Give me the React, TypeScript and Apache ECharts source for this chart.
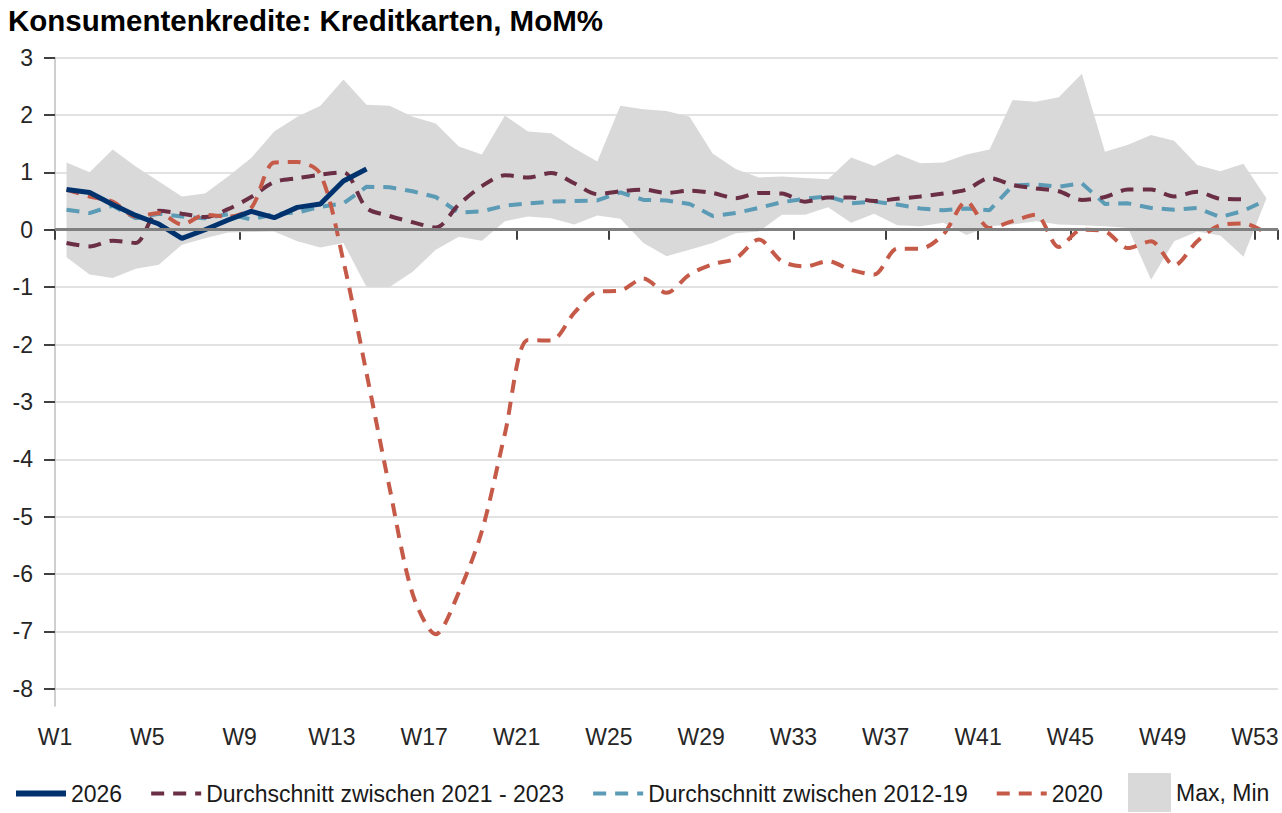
import React, { useEffect, useRef } from 'react';
import * as echarts from 'echarts';

const weeks = ['W1','W2','W3','W4','W5','W6','W7','W8','W9','W10','W11','W12','W13','W14','W15','W16','W17','W18','W19','W20','W21','W22','W23','W24','W25','W26','W27','W28','W29','W30','W31','W32','W33','W34','W35','W36','W37','W38','W39','W40','W41','W42','W43','W44','W45','W46','W47','W48','W49','W50','W51','W52','W53'];

const yTicks = [-8, -7, -6, -5, -4, -3, -2, -1, 0, 1, 2, 3];

const s2026 = [0.70, 0.65, 0.44, 0.25, 0.10, -0.15, 0.0, 0.17, 0.32, 0.21, 0.39, 0.45, 0.85, 1.06];

const avg2123 = [-0.23, -0.29, -0.19, -0.23, 0.33, 0.28, 0.22, 0.36, 0.57, 0.83, 0.90, 0.96, 1.00, 0.38, 0.24, 0.13, 0.04, 0.44, 0.76, 0.95, 0.91, 0.99, 0.81, 0.62, 0.67, 0.70, 0.64, 0.68, 0.64, 0.55, 0.64, 0.63, 0.49, 0.56, 0.56, 0.50, 0.54, 0.58, 0.63, 0.70, 0.90, 0.78, 0.72, 0.67, 0.52, 0.57, 0.70, 0.70, 0.58, 0.66, 0.54, 0.53];

const avg1219 = [0.35, 0.29, 0.42, 0.20, 0.28, 0.23, 0.20, 0.27, 0.18, 0.27, 0.30, 0.40, 0.46, 0.75, 0.74, 0.67, 0.57, 0.30, 0.32, 0.42, 0.46, 0.49, 0.50, 0.51, 0.65, 0.52, 0.51, 0.45, 0.24, 0.29, 0.38, 0.48, 0.54, 0.58, 0.46, 0.49, 0.44, 0.37, 0.34, 0.37, 0.34, 0.77, 0.79, 0.75, 0.81, 0.45, 0.46, 0.38, 0.35, 0.38, 0.22, 0.33, 0.52];

const s2020 = [0.70, 0.58, 0.49, 0.23, 0.29, 0.09, 0.26, 0.23, 0.38, 1.17, 1.18, 0.97, -0.55, -2.50, -4.50, -6.35, -7.05, -6.32, -5.25, -3.55, -1.92, -1.93, -1.45, -1.08, -1.06, -0.85, -1.10, -0.78, -0.60, -0.50, -0.17, -0.55, -0.64, -0.55, -0.70, -0.78, -0.33, -0.33, -0.08, 0.49, 0.03, 0.15, 0.26, -0.30, 0.00, -0.03, -0.32, -0.20, -0.62, -0.20, 0.08, 0.11, -0.06];

const bandMax = [1.17, 1.00, 1.40, 1.10, 0.84, 0.58, 0.63, 0.93, 1.25, 1.71, 1.97, 2.16, 2.62, 2.18, 2.16, 1.97, 1.85, 1.45, 1.31, 1.99, 1.71, 1.68, 1.42, 1.19, 2.16, 2.10, 2.07, 1.97, 1.33, 1.06, 0.91, 0.93, 0.90, 0.88, 1.26, 1.11, 1.32, 1.16, 1.17, 1.31, 1.40, 2.26, 2.23, 2.31, 2.72, 1.36, 1.48, 1.65, 1.55, 1.13, 1.02, 1.15, 0.55];

const bandMin = [-0.48, -0.78, -0.84, -0.68, -0.61, -0.26, -0.15, -0.05, -0.04, -0.03, -0.20, -0.31, -0.23, -1.00, -1.00, -0.73, -0.35, -0.12, -0.19, 0.15, 0.23, 0.20, 0.09, 0.25, 0.19, -0.23, -0.46, -0.35, -0.23, -0.06, -0.03, 0.26, 0.26, 0.39, 0.12, 0.28, 0.08, 0.06, 0.12, -0.09, 0.06, 0.09, 0.15, 0.09, 0.08, 0.06, 0.03, -0.87, -0.20, -0.03, -0.10, -0.47, 0.55];

const NAMES = ['2026', 'Durchschnitt zwischen 2021 - 2023', 'Durchschnitt zwischen 2012-19', '2020', 'Max, Min'];

const FONT = "'Liberation Sans', Arial, sans-serif";
const C_NAVY = '#00326e';
const C_MAROON = '#6a2e45';
const C_BLUE = '#5b9bb5';
const C_RED = '#c65a48';
const C_BAND = '#d9d9d9';

export default function App() {
  const ref = useRef<HTMLDivElement>(null);
  useEffect(() => {
    if (!ref.current) return;
    const chart = echarts.init(ref.current, undefined, { renderer: 'svg' });
    const dash = [13, 9];
    const lgText = { fontSize: 23, color: '#1a1a1a', fontFamily: FONT };
    const option: any = {
      animation: false,
      backgroundColor: '#ffffff',
      textStyle: { fontFamily: FONT },
      title: {
        text: 'Konsumentenkredite: Kreditkarten, MoM%',
        left: 3,
        top: 0,
        textStyle: { fontFamily: FONT, fontWeight: 'bold', fontSize: 29.5, color: '#000' },
      },
      grid: { left: 55, right: 4, top: 57.6, bottom: 107 },
      xAxis: {
        type: 'category',
        data: weeks,
        boundaryGap: true,
        axisLine: { show: true, lineStyle: { color: '#bfbfbf', width: 1.5 } },
        axisTick: { show: true, interval: 3, length: 10, lineStyle: { color: '#404040', width: 2 } },
        axisLabel: { interval: 3, margin: 19, fontSize: 23, color: '#262626', fontFamily: FONT, padding: [0, 23, 0, 0] },
        splitLine: { show: false },
      },
      yAxis: {
        type: 'value',
        min: -8.3,
        max: 3,
        axisLine: { show: true, lineStyle: { color: '#bfbfbf', width: 1.5 } },
        axisTick: { show: true, customValues: yTicks, length: 11, lineStyle: { color: '#404040', width: 2 } },
        axisLabel: { customValues: yTicks, margin: 22, fontSize: 23, color: '#262626', fontFamily: FONT },
        splitLine: { show: true, lineStyle: { color: '#d9d9d9', width: 1.5 } },
      },
      legend: [
        {
          data: [
            { name: NAMES[0], lineStyle: { width: 6, color: C_NAVY, type: 'solid' } },
            { name: NAMES[1], lineStyle: { width: 4, color: C_MAROON, type: dash } },
            { name: NAMES[2], lineStyle: { width: 4, color: C_BLUE, type: dash } },
            { name: NAMES[3], lineStyle: { width: 4, color: C_RED, type: dash } },
          ],
          left: 13,
          top: 782,
          padding: 0,
          itemWidth: 50,
          itemHeight: 14,
          itemGap: 27,
          selectedMode: false,
          itemStyle: { opacity: 0 },
          textStyle: lgText,
        },
        {
          data: [{ name: NAMES[4], icon: 'rect', itemStyle: { color: C_BAND, opacity: 1 } }],
          left: 1128,
          top: 773,
          padding: 0,
          itemWidth: 43,
          itemHeight: 39,
          selectedMode: false,
          textStyle: lgText,
        },
      ],
      series: [
        {
          type: 'custom',
          name: NAMES[4],
          silent: true,
          z: 1,
          clip: false,
          itemStyle: { color: C_BAND },
          data: [[0, 0]],
          renderItem: (params: any, api: any) => {
            const upper = bandMax.map((v, i) => api.coord([i, v]));
            const lower = bandMin.map((v, i) => api.coord([i, v])).reverse();
            return { type: 'polygon', shape: { points: upper.concat(lower) }, style: { fill: C_BAND } };
          },
        },
        {
          type: 'line',
          name: 'zero',
          data: [],
          z: 2,
          silent: true,
          markLine: {
            silent: true,
            symbol: ['none', 'none'],
            label: { show: false },
            lineStyle: { color: '#808080', width: 3, type: 'solid' },
            data: [{ yAxis: 0 }],
          },
        },
        {
          type: 'line', name: NAMES[2], data: avg1219, symbol: 'none', z: 3,
          lineStyle: { color: C_BLUE, width: 4, type: dash },
          itemStyle: { color: C_BLUE },
        },
        {
          type: 'line', name: NAMES[1], data: avg2123, symbol: 'none', z: 3, smooth: 0.3,
          lineStyle: { color: C_MAROON, width: 4, type: dash },
          itemStyle: { color: C_MAROON },
        },
        {
          type: 'line', name: NAMES[3], data: s2020, symbol: 'none', z: 3, smooth: 0.3,
          lineStyle: { color: C_RED, width: 4, type: dash },
          itemStyle: { color: C_RED },
        },
        {
          type: 'line', name: NAMES[0], data: s2026, symbol: 'none', z: 4,
          lineStyle: { color: C_NAVY, width: 5 },
          itemStyle: { color: C_NAVY },
        },
      ],
    };
    chart.setOption(option);
    return () => chart.dispose();
  }, []);
  return <div ref={ref} style={{ position: 'fixed', left: 0, top: 0, width: 1282, height: 813, background: '#fff' }} />;
}
